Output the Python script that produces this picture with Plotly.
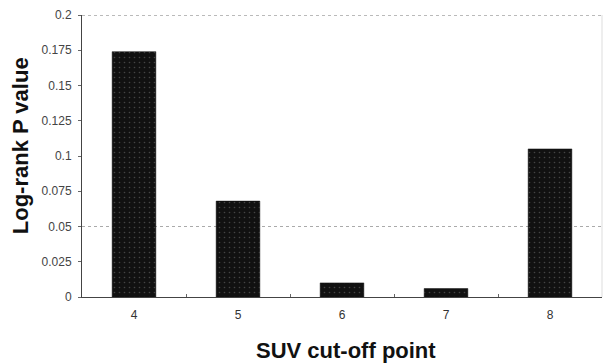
import plotly.graph_objects as go

categories = ["4", "5", "6", "7", "8"]
p_values = [0.174, 0.068, 0.010, 0.006, 0.105]
y_ticks = [0, 0.025, 0.05, 0.075, 0.1, 0.125, 0.15, 0.175, 0.2]
y_tick_labels = ["0", "0.025", "0.05", "0.075", "0.1", "0.125", "0.15", "0.175", "0.2"]
x_title = "SUV cut-off point"
y_title = "Log-rank P value"

fig = go.Figure()
fig.add_trace(go.Bar(
    x=categories, y=p_values, width=0.42,
    marker=dict(color="#111111", line=dict(color="#111111", width=0.5),
                pattern=dict(shape=".", fgcolor="#777777", size=5, solidity=0.08)),
))

# reference line at 0.05
fig.add_shape(type="line", xref="paper", yref="y", x0=0, x1=1, y0=0.05, y1=0.05,
              line=dict(color="#aaaaaa", width=1, dash="dot"), layer="below")
# top border
fig.add_shape(type="line", xref="paper", yref="y", x0=0, x1=1, y0=0.2, y1=0.2,
              line=dict(color="#777777", width=1, dash="dot"), layer="below")
# right border
fig.add_shape(type="line", xref="paper", yref="y", x0=1, x1=1, y0=0, y1=0.2,
              line=dict(color="#dddddd", width=1), layer="below")

fig.add_annotation(text="<b>" + x_title + "</b>", xref="paper", yref="paper",
                   x=0.508, y=-0.19, xanchor="center", yanchor="middle", showarrow=False,
                   font=dict(size=22, color="#111111"))
fig.add_annotation(text="<b>" + y_title + "</b>", xref="paper", yref="paper",
                   x=-0.119, y=0.535, xanchor="center", yanchor="middle", showarrow=False,
                   textangle=-90, font=dict(size=22, color="#111111"))

fig.update_layout(
    width=603, height=363,
    margin=dict(l=82, r=1, t=15, b=66),
    paper_bgcolor="white", plot_bgcolor="white",
    showlegend=False,
    font=dict(family="Arial, Liberation Sans, sans-serif", color="#333333"),
)
fig.update_xaxes(
    type="category",
    tickfont=dict(size=12, color="#333333"),
    showline=True, linecolor="#444444", linewidth=1,
    ticks="inside", ticklen=3, tickcolor="#666666", tickson="boundaries",
    showgrid=False, ticklabelstandoff=7,
)
fig.update_yaxes(
    range=[0, 0.2],
    tickvals=y_ticks, ticktext=y_tick_labels,
    tickfont=dict(size=12, color="#444444"),
    showline=True, linecolor="#444444", linewidth=1,
    ticks="outside", ticklen=3, tickcolor="#666666",
    showgrid=False, zeroline=False, ticklabelstandoff=4,
)

fig.write_html("out.html")
